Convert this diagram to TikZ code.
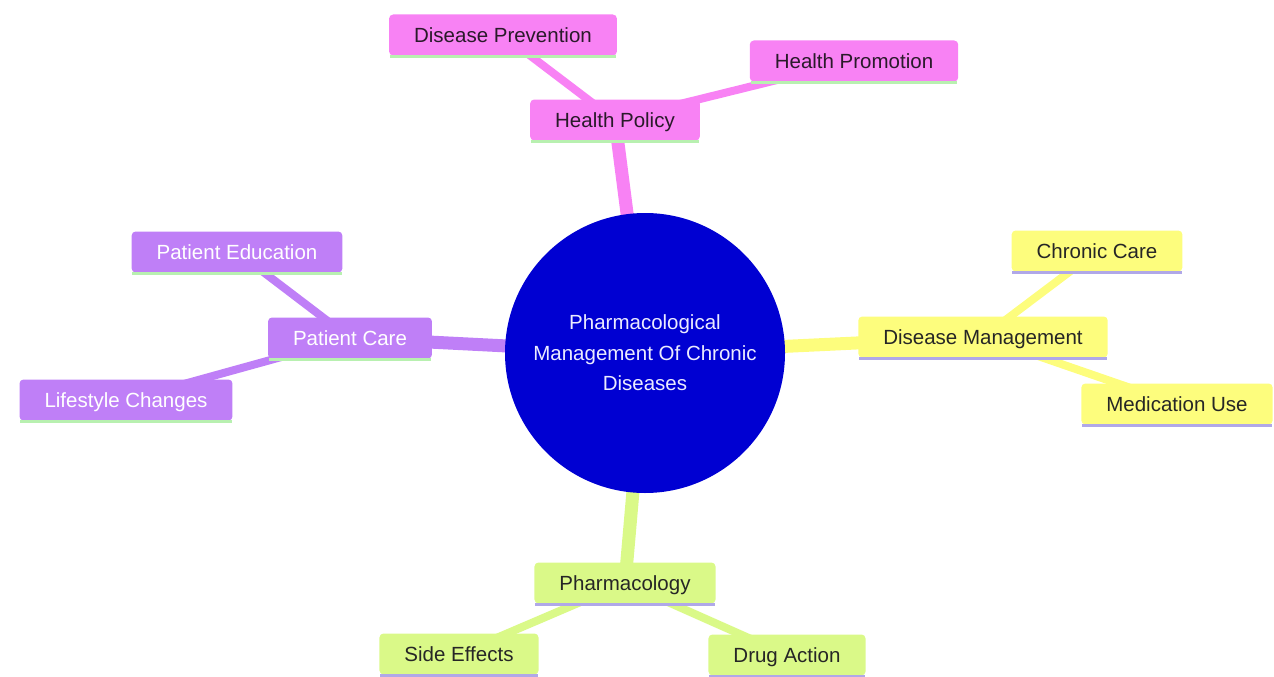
\documentclass[tikz,border=0pt]{standalone}
\usepackage{fontspec}
\setmainfont{Liberation Sans}
\usetikzlibrary{backgrounds}
\definecolor{cpink}{HTML}{F882F4}
\definecolor{cpurple}{HTML}{BF7FF7}
\definecolor{cyellow}{HTML}{FDFD7D}
\definecolor{cgreen}{HTML}{DAF988}
\definecolor{cblue}{HTML}{0000D2}
\definecolor{ulgreen}{HTML}{B8F0B0}
\definecolor{ullav}{HTML}{B0A8E8}
\definecolor{tdark}{HTML}{2A1A2A}
\tikzset{
  bx/.style={rectangle, rounded corners=4pt, inner xsep=25pt, inner ysep=0pt,
    minimum height=41pt, text height=14.7pt, text depth=0pt,
    font=\fontsize{20.5}{24}\selectfont},
  pinkbox/.style={bx, fill=cpink, text=tdark},
  purplebox/.style={bx, fill=cpurple, text=white},
  yellowbox/.style={bx, fill=cyellow, text=black!85},
  greenbox/.style={bx, fill=cgreen, text=black!85},
  mainlink/.style={line width=13pt},
  sublink/.style={line width=8pt},
  uline/.style={line width=2.5pt}
}
\begin{document}
\begin{tikzpicture}[x=1pt,y=-1pt]
\useasboundingbox (0,0) rectangle (1274,677);
% center
\node[circle, fill=cblue, minimum size=280pt, inner sep=0pt, text=white!92!blue,
  align=center, font=\fontsize{20.5}{30.5}\selectfont] (c) at (645,353)
  {Pharmacological\\Management Of Chronic\\Diseases};
% branches
\node[pinkbox] (hp) at (615,120) {Health Policy};
\node[pinkbox] (dp) at (503,35) {Disease Prevention};
\node[pinkbox] (hpr) at (854,61) {Health Promotion};
\node[purplebox] (pc) at (350,338) {Patient Care};
\node[purplebox] (pe) at (237,252) {Patient Education};
\node[purplebox] (lc) at (126,400) {Lifestyle Changes};
\node[yellowbox] (dm) at (983,337) {Disease Management};
\node[yellowbox] (cc) at (1097,251) {Chronic Care};
\node[yellowbox] (mu) at (1177,404) {Medication Use};
\node[greenbox] (ph) at (625,583) {Pharmacology};
\node[greenbox] (se) at (459,654) {Side Effects};
\node[greenbox] (da) at (787,655) {Drug Action};
% underlines
\foreach \n/\u in {hp/ulgreen, dp/ulgreen, hpr/ulgreen, pc/ulgreen, pe/ulgreen, lc/ulgreen,
  dm/ullav, cc/ullav, mu/ullav, ph/ullav, se/ullav, da/ullav}
  \draw[uline, \u] ([xshift=1pt,yshift=-1pt]\n.south west) -- ([xshift=-1pt,yshift=-1pt]\n.south east);
% connectors
\begin{scope}[on background layer]
\draw[mainlink, cpink] (c.center) -- (hp.center);
\draw[mainlink, cpurple] (c.center) -- (pc.center);
\draw[mainlink, cyellow] (c.center) -- (dm.center);
\draw[mainlink, cgreen] (c.center) -- (ph.center);
\draw[sublink, cpink] (hp.center) -- (dp.center);
\draw[sublink, cpink] (hp.center) -- (hpr.center);
\draw[sublink, cpurple] (pc.center) -- (pe.center);
\draw[sublink, cpurple] (pc.center) -- (lc.center);
\draw[sublink, cyellow] (dm.center) -- (cc.center);
\draw[sublink, cyellow] (dm.center) -- (mu.center);
\draw[sublink, cgreen] (ph.center) -- (se.center);
\draw[sublink, cgreen] (ph.center) -- (da.center);
\end{scope}
\end{tikzpicture}
\end{document}
